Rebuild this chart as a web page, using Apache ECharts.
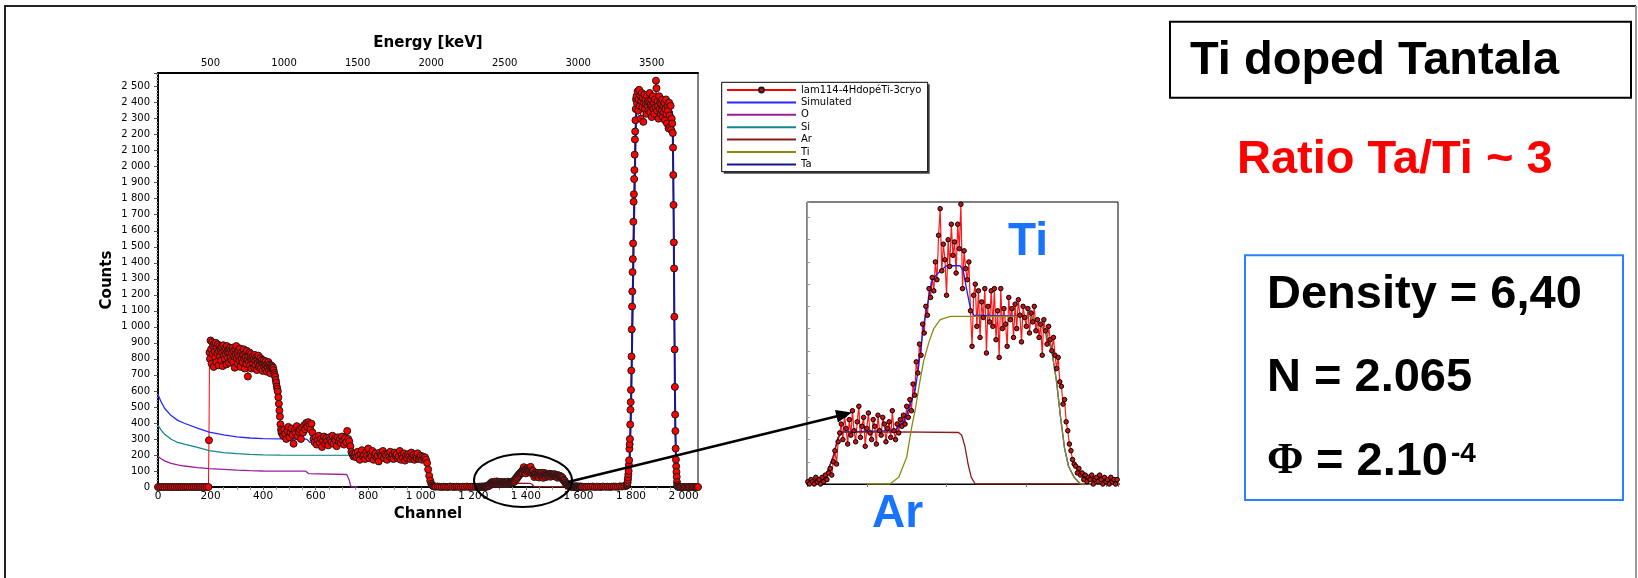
<!DOCTYPE html>
<html>
<head>
<meta charset="utf-8">
<title>Ti doped Tantala</title>
<script src="https://cdn.jsdelivr.net/npm/echarts@6/dist/echarts.min.js"></script>
<style>
  html, body { margin: 0; padding: 0; background: #fff; }
  #container { width: 1638px; height: 578px; }
</style>
</head>
<body>
<div id="container"></div>
<script>
// measured spectrum, in pieces: each piece has a start channel and a channel step
var leadCounts = [0,0,0,0,0,0,0,0,0,0,0,0,0,0,0,0,0,0,0,0,0,0,0,0];          // ch 0..184 step 8
var edgeCounts = [0, 292];                                                      // ch 192..194 step 2
var highCounts = [840,800,915,860,770,905,830,880,750,895,845,810,900,780,870,835,890,760,850,880,815,
                  860,790,875,840,755,885,820,850,800,870,830,765,880,845,805,860,775,840,870,810,855,790,
                  835,870,780,850,815,745,860,825,880,800,840,770,855,815,790,865,750,830,800,845,
                  780,825,860,800,740,835,810,770,850,795,690,820,780,840,760,805,830,740,795,815,
                  770,800,745,825,790,760,810,730,795,775,820,750,785,760,805,740,780,795,725,770,
                  790,750,775,735,785,760,720,770,745,780,730,765,750,710,760,740,755,745]; // ch 196..436 step 2
var dropCounts = [745,730,712,700,688,668,650,628,612,596,560,520,478,440,392,358,338]; // ch 438..470 step 2
var midCounts = [345,320,360,330,300,350,375,310,340,365,325,270,355,335,380,315,345,360,300,370,340,
                 385,360,400,375,405,390,360,395,340,
                 300,280,310,265,295,320,275,300,250,290,315,270,305,285,260,310,295,280,320,270,
                 300,290,255,310,285,300,275,315,290,265,305,280,350,
                 300,285,255,220,205,190,200,
                 210,185,220,195,170,205,230,190,200,175,215,195,240,180,205,190,225,170,200,210,
                 185,195,160,215,200,190,225,180,205,195,170,210,190,220,185,200,175,215,195,205,
                 180,190,225,170,200,185,210,165,195,180,205,190,175,215,185,200,170,190,180,210,
                 175,185,195,170,190,180,
                 185,170,150,110,70,40,20,10,5,3,2];                            // ch 472..1056 step 4
var lowACounts = [3,1,0,2,1,0,3,1,0,2,1,0,2,1,3,0,1,2,0,1,2];                  // ch 1064..1224 step 8
var zoomCounts = [1,0,2,1,0,3,1,2,0,3, 1,4,2,5,7,4,10,15,9,19,
                  23,27,20,31,25,18,29,22,33,24, 19,28,35,21,26,30,17,25,32,23,
                  20,29,26,18,31,24,22,30,27,19, 25,28,21,33,24,20,27,23,29,26,
                  31,27,35,30,38,33,45,40,55,50, 63,58,72,68,80,76,88,84,93,87,
                  100,92,112,124,96,108,101,85,110,98, 117,103,109,95,117,106,126,88,105,97,
                  92,100,78,62,85,90,71,87,66,82, 75,88,59,80,73,87,71,88,65,78,
                  57,88,70,79,72,62,84,74,79,66, 81,70,83,76,64,80,75,71,79,68,
                  77,73,80,69,74,66,72,58,74,69, 63,71,65,60,66,58,52,57,46,44,
                  36,38,28,24,18,15,11,9,8,5, 7,4,5,2,4,1,3,2,4,0,
                  2,3,1,4,2,0,3,1,2,0, 3,1,2,0,2];                              // ch 1226..1614 step 2
var lowBCounts = [1,0,2,1,3,0,2,1,0,3,1,2,0,1,3,2,1,4,3,5,7];                  // ch 1622..1782 step 8
var riseCounts = [10,15,22,30,45,60,80,100,138,167,238,267,300,390,482,530,606,727,815,984,
                  1127,1221,1342,1423,1521,1656,1781,1828,1923,1979,2075,2170,2220,2290,2360,2420]; // ch 1784.. step 1
var topCounts = [2440,2395,2470,2350,2420,2480,2380,2445,2300,2410,
                 2460,2370,2430,2280,2400,2450,2360,2420,2390,2330,
                 2440,2380,2410,2350,2400,2460,2340,2390,2420,2310,
                 2380,2440,2360,2400,2330,2420,2370,2537,2490,2350,
                 2410,2380,2300,2440,2360,2400,2330,2390,2350,2420,
                 2310,2380,2340,2400,2290,2360,2420,2330,2270,2380,
                 2350,2240,2400,2320,2250,2380,2230,2300,2270];                 // ch 1821..1957 step 2
var fallCounts = [2210,2119,1948,1761,1527,1365,1063,859,625,452,350,240,171,129,94,63,31,12,4]; // ch 1959.. step 1
var tailCounts = [0,0,0,0,0,0,0,0,0,0,0,0,0,0,0,0];                           // ch 1980..2055 step 5

// simulated curves [channel, counts]
var oCurve = [[0,192],[10,178],[25,163],[50,148],[75,138],[100,131],[150,121],[195,115],[250,110],[300,105],
  [350,102],[400,100],[562,99],[568,94],[573,84],[578,80],[718,78],[723,70],[728,42],[732,14],[736,0],[760,0]];
var siCurve = [[0,386],[10,360],[25,329],[50,298],[75,278],[100,267],[150,247],[195,227],[250,215],[300,208],
  [350,204],[400,201],[467,199],[1005,198],[1013,190],[1021,165],[1028,118],[1035,62],[1041,24],[1047,6],[1055,0],[1080,0]];
var arCurve = [[1200,0],[1237,0],[1244,1.5],[1250,5],[1258,12.5],[1264,21],[1270,23.4],[1340,23.5],[1415,23.2],
  [1419,22],[1423,17],[1427,9],[1431,3],[1436,0],[1620,0]];
var tiCurve = [[1300,0],[1329,0],[1340,3],[1350,12],[1356,25],[1361,34],[1366,45],[1371,55],[1378,64],[1384,70],
  [1392,74],[1405,75.5],[1505,75.5],[1515,73],[1525,68],[1532,60],[1538,46],[1543,30],[1548,16],[1553,8],[1560,3],[1568,0],[1620,0]];
var taCurve = [[1700,0],[1785,0],[1790,25],[1795,170],[1800,480],[1805,980],[1810,1520],[1815,1980],[1818,2220],
  [1821,2380],[1826,2405],[1829,2410],[1956,2345],[1958,2290],[1959,2200],[1961,1950],[1963,1530],[1965,1070],
  [1967,630],[1969,350],[1971,175],[1973,95],[1975,40],[1977,10],[1980,0],[2055,0]];
var simCurve = [[0,578],[10,538],[25,492],[50,446],[75,416],[100,398],[150,368],[195,342],[250,326],[300,313],
  [350,306],[400,302],[467,300],[566,299],[572,290],[578,279],[720,277],[726,268],[731,245],[736,215],[741,202],
  [750,199],[1005,198],[1012,190],[1019,165],[1025,120],[1031,65],[1036,28],[1042,8],[1050,0],[1237,0],[1244,1.5],
  [1250,5],[1258,12.5],[1264,21],[1270,23.5],[1335,24],[1346,28],[1354,35],[1361,43],[1365,53],[1368,62],[1371,71],
  [1374,77],[1378,84.5],[1381,91],[1388,94.5],[1394,96.5],[1400,98.3],[1417,98.3],[1421,96],[1425,88],[1430,79],
  [1434,76],[1505,75.5],[1515,73],[1525,68],[1532,60],[1538,46],[1543,30],[1548,16],[1553,8],[1560,3],[1568,0],
  [1785,0],[1790,25],[1795,170],[1800,480],[1805,980],[1810,1520],[1815,1980],[1818,2220],[1821,2380],[1826,2405],
  [1829,2410],[1956,2345],[1958,2290],[1959,2200],[1961,1950],[1963,1530],[1965,1070],[1967,630],[1969,350],
  [1971,175],[1973,95],[1975,40],[1977,10],[1980,0],[2055,0]];

var legendNames = ['lam114-4HdopéTi-3cryo', 'Simulated', 'O', 'Si', 'Ar', 'Ti', 'Ta'];

// channel -> energy calibration of the top axis
var keV0 = 142.6, keVPerCh = 1.787, chMax = 2055;

function piece(start, step, counts) {
    return counts.map(function (c, i) { return [start + i * step, c]; });
}

var measured = [].concat(
    piece(0, 8, leadCounts),
    piece(192, 2, edgeCounts),
    piece(196, 2, highCounts),
    piece(438, 2, dropCounts),
    piece(472, 4, midCounts),
    piece(1064, 8, lowACounts),
    piece(1226, 2, zoomCounts),
    piece(1622, 8, lowBCounts),
    piece(1784, 1, riseCounts),
    piece(1821, 2, topCounts),
    piece(1959, 1, fallCounts),
    piece(1980, 5, tailCounts)
);
var zoomed = piece(1226, 2, zoomCounts);

function spaced(v) {
    v = Math.round(v);
    if (v >= 1000) {
        var r = String(v % 1000);
        while (r.length < 3) r = '0' + r;
        return Math.floor(v / 1000) + ' ' + r;
    }
    return String(v);
}

var FONT = '"Liberation Sans", Arial, sans-serif';
var SMALL = '"DejaVu Sans", sans-serif';

var dom = document.getElementById('container');
var myChart = echarts.init(dom, null, { renderer: 'canvas' });

function curve(name, data, color, width, xi, yi) {
    return {
        name: name, type: 'line', data: data, xAxisIndex: xi, yAxisIndex: yi,
        symbol: 'none', showSymbol: false, animation: false,
        lineStyle: { color: color, width: width }, itemStyle: { color: color }
    };
}

var legendData = legendNames.map(function (n, i) {
    return i === 0 ? { name: n } : { name: n, itemStyle: { opacity: 0 } };
});

var option = {
    backgroundColor: '#fff',
    animation: false,
    textStyle: { fontFamily: SMALL },
    grid: [
        { left: 158, top: 73, width: 540, height: 414, show: true, borderColor: '#000', borderWidth: 1 },
        { left: 807, top: 202, width: 311, height: 282, show: true, borderColor: '#000', borderWidth: 1 }
    ],
    legend: {
        data: legendData, orient: 'vertical', left: 726, top: 84, padding: 0,
        itemWidth: 69, itemHeight: 6, itemGap: 0.4,
        textStyle: { fontSize: 10, color: '#000', lineHeight: 12, fontFamily: SMALL }
    },
    xAxis: [
        {
            type: 'value', gridIndex: 0, position: 'bottom', min: 0, max: chMax, interval: 200,
            name: 'Channel', nameLocation: 'middle', nameGap: 19,
            nameTextStyle: { fontSize: 15, fontWeight: 'bold', color: '#000', fontFamily: SMALL },
            axisLine: { lineStyle: { color: '#000', width: 2 } },
            axisTick: { length: 3, lineStyle: { color: '#666' } },
            minorTick: { show: true, splitNumber: 4, length: 3, lineStyle: { color: '#999' } },
            axisLabel: { fontSize: 10.5, color: '#000', margin: 4, showMaxLabel: false, formatter: spaced },
            splitLine: { show: false }
        },
        {
            type: 'value', gridIndex: 0, position: 'top', min: keV0, max: keV0 + keVPerCh * chMax,
            minInterval: 500, maxInterval: 500,
            name: 'Energy [keV]', nameLocation: 'middle', nameGap: 22,
            nameTextStyle: { fontSize: 15, fontWeight: 'bold', color: '#000', fontFamily: SMALL },
            axisLine: { lineStyle: { color: '#000', width: 2 } },
            axisTick: { show: false },
            axisLabel: { fontSize: 10, color: '#000', margin: 5, showMinLabel: false, showMaxLabel: false,
                         formatter: function (v) { return String(Math.round(v)); } },
            splitLine: { show: false }
        },
        {
            type: 'value', gridIndex: 1, min: 1225, max: 1615,
            axisLine: { lineStyle: { color: '#000', width: 1.2 } },
            axisTick: { length: 3, lineStyle: { color: '#777' } },
            axisLabel: { show: false },
            splitLine: { show: false }
        }
    ],
    yAxis: [
        {
            type: 'value', gridIndex: 0, min: 0, max: 2585, interval: 100,
            name: 'Counts', nameLocation: 'middle', nameGap: 43, nameRotate: 90,
            nameTextStyle: { fontSize: 15, fontWeight: 'bold', color: '#000', fontFamily: SMALL },
            axisLine: { lineStyle: { color: '#000', width: 2 } },
            axisTick: { length: 4, lineStyle: { color: '#555' } },
            minorTick: { show: true, splitNumber: 5, length: 2, lineStyle: { color: '#aaa' } },
            axisLabel: { fontSize: 10, color: '#000', margin: 8, showMaxLabel: false, formatter: spaced },
            splitLine: { show: false }
        },
        {
            type: 'value', gridIndex: 1, min: 0, max: 127, splitNumber: 12,
            axisLine: { lineStyle: { color: '#999', width: 1 } },
            axisTick: { inside: true, length: 3, lineStyle: { color: '#999' } },
            axisLabel: { show: false },
            splitLine: { show: false }
        }
    ],
    series: [
        {
            name: legendNames[0], type: 'line', data: measured, xAxisIndex: 0, yAxisIndex: 0,
            symbol: 'circle', symbolSize: 7, showSymbol: true,
            lineStyle: { color: '#ff0000', width: 1 },
            itemStyle: { color: '#ff0000', borderColor: '#1a1a1a', borderWidth: 1 }
        },
        curve('Simulated', simCurve, '#2828ff', 1.3, 0, 0),
        curve('O', oCurve, '#9a1f9a', 1.3, 0, 0),
        curve('Si', siCurve, '#13878a', 1.3, 0, 0),
        curve('Ar', arCurve, '#8b1a1a', 1.3, 0, 0),
        curve('Ti', tiCurve, '#8a8a10', 1.3, 0, 0),
        curve('Ta', taCurve, '#161690', 2, 0, 0),
        {
            name: legendNames[0], type: 'line', data: zoomed, xAxisIndex: 2, yAxisIndex: 1,
            symbol: 'circle', symbolSize: 4.5, showSymbol: true,
            lineStyle: { color: '#ff1a1a', width: 1.2 },
            itemStyle: { color: '#d01010', borderColor: '#000', borderWidth: 1 }
        },
        curve('Simulated', simCurve, '#1a1aff', 1.3, 2, 1),
        curve('Ar', arCurve, '#8b1a1a', 1.3, 2, 1),
        curve('Ti', tiCurve, '#8a8a10', 1.3, 2, 1)
    ],
    graphic: [
        // slide frame: dark left/top, grey right edge
        { type: 'polyline', z: 100, shape: { points: [[5, 578], [5, 6], [1636, 6]] },
          style: { stroke: '#222', lineWidth: 2, fill: null } },
        { type: 'line', z: 100, shape: { x1: 1636, y1: 6, x2: 1636, y2: 578 },
          style: { stroke: '#999', lineWidth: 2 } },
        // legend frame
        { type: 'rect', z: 1, shape: { x: 723.7, y: 84.3, width: 206, height: 89.4 }, style: { fill: '#444' } },
        { type: 'rect', z: 1, shape: { x: 721.7, y: 82.3, width: 206, height: 89.4 }, style: { fill: '#fff', stroke: '#000', lineWidth: 1 } },
        // ellipse and arrow
        { type: 'ellipse', z: 100, shape: { cx: 523, cy: 480.5, rx: 49, ry: 26.5 }, style: { stroke: '#000', lineWidth: 2, fill: null } },
        { type: 'line', z: 100, shape: { x1: 568, y1: 482, x2: 840, y2: 415.5 }, style: { stroke: '#000', lineWidth: 2.5 } },
        { type: 'polygon', z: 100, shape: { points: [[852, 412.5], [837.9, 422.6], [835.0, 410]] }, style: { fill: '#000' } },
        // inset labels
        { type: 'text', z: 100, x: 1008, y: 242, style: { text: 'Ti', fill: '#1874ff', font: 'bold 46px ' + FONT, align: 'left', verticalAlign: 'middle' } },
        { type: 'text', z: 100, x: 872, y: 514, style: { text: 'Ar', fill: '#1874ff', font: 'bold 46px ' + FONT, align: 'left', verticalAlign: 'middle' } },
        // right panel
        { type: 'rect', z: 100, shape: { x: 1170, y: 21.7, width: 461, height: 76 }, style: { fill: null, stroke: '#000', lineWidth: 2 } },
        { type: 'text', z: 100, x: 1190, y: 61, style: { text: 'Ti doped Tantala', fill: '#000', font: 'bold 47px ' + FONT, align: 'left', verticalAlign: 'middle' } },
        { type: 'text', z: 100, x: 1237, y: 160, style: { text: 'Ratio Ta/Ti ~ 3', fill: '#ff0000', font: 'bold 47px ' + FONT, align: 'left', verticalAlign: 'middle' } },
        { type: 'rect', z: 100, shape: { x: 1245, y: 255.3, width: 378, height: 244.7 }, style: { fill: null, stroke: '#2a7fff', lineWidth: 2 } },
        { type: 'text', z: 100, x: 1267, y: 295, style: { text: 'Density = 6,40', fill: '#000', font: 'bold 47px ' + FONT, align: 'left', verticalAlign: 'middle' } },
        { type: 'text', z: 100, x: 1267, y: 378, style: { text: 'N = 2.065', fill: '#000', font: 'bold 47px ' + FONT, align: 'left', verticalAlign: 'middle' } },
        { type: 'text', z: 100, x: 1267, y: 462, style: { text: 'Φ', fill: '#000', font: 'bold 44px "Liberation Serif", serif', align: 'left', verticalAlign: 'middle' } },
        { type: 'text', z: 100, x: 1316, y: 462, style: { text: '= 2.10', fill: '#000', font: 'bold 47px ' + FONT, align: 'left', verticalAlign: 'middle' } },
        { type: 'text', z: 100, x: 1451, y: 454, style: { text: '-4', fill: '#000', font: 'bold 28px ' + FONT, align: 'left', verticalAlign: 'middle' } }
    ]
};

if (option && typeof option === 'object') {
    myChart.setOption(option);
}

window.addEventListener('resize', myChart.resize);
</script>
</body>
</html>
